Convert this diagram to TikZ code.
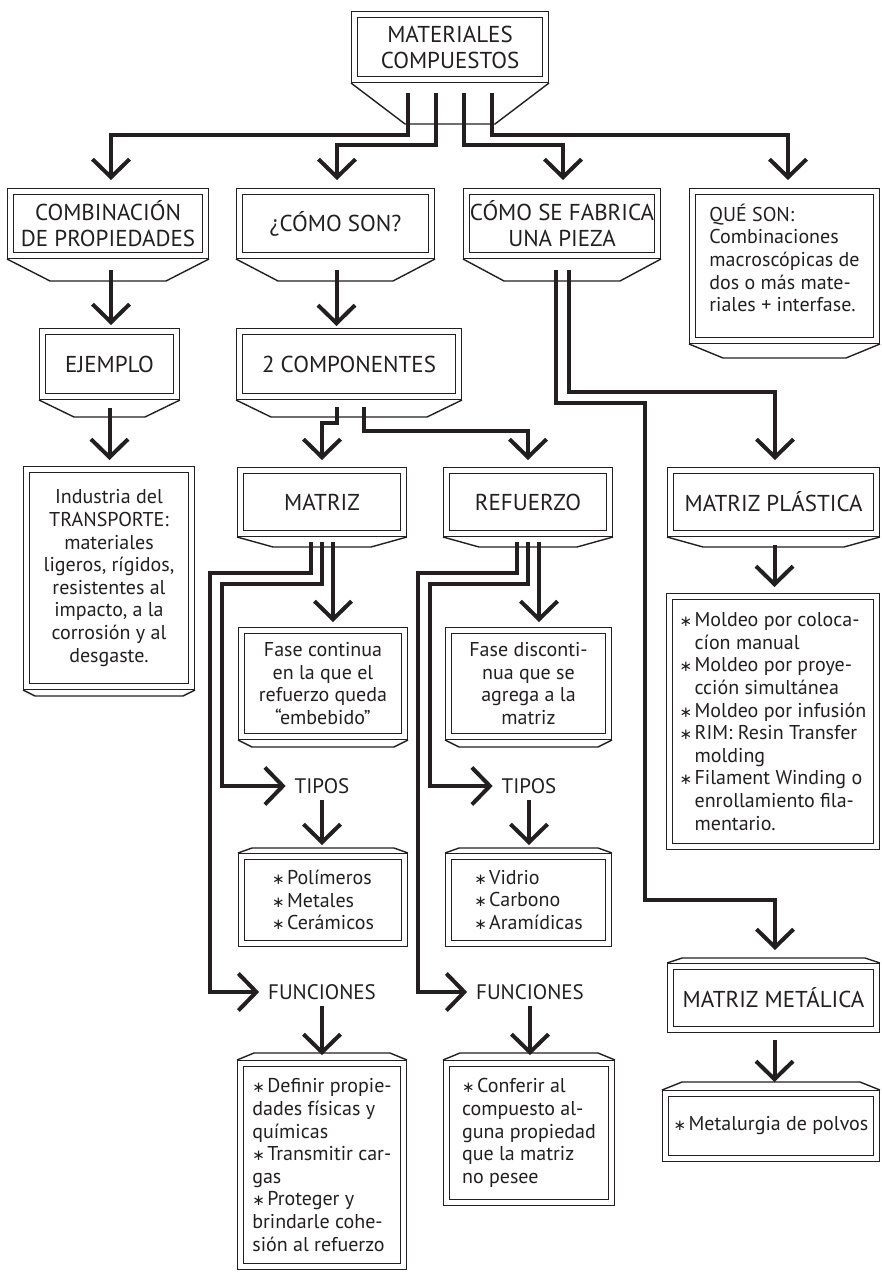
\documentclass[tikz,border=0pt]{standalone}
\usepackage{fontspec}
\usepackage{graphicx}
\setmainfont{PT Sans}
\newfontfamily\symfont{DejaVu Sans}
\usetikzlibrary{arrows.meta,calc}
\definecolor{ink}{HTML}{231F20}
\newcommand\hfont{\fontsize{23}{26}\selectfont}
\newcommand\lfont{\fontsize{21}{24}\selectfont}
\newcommand\bfont{\fontsize{20}{22.6}\selectfont}
\newcommand\bul{{\fontsize{15}{15}\symfont ∗}\hspace{0.12em}}
\newcommand\bulind{\hphantom{\bul}}
\tikzset{
  box/.style={draw=ink, line width=1.4pt, double=white, double distance=4.6pt,
    outer sep=3.7pt, inner sep=0pt, align=center, text=ink, font=\hfont},
  bodybox/.style={box, font=\bfont},
  lbl/.style={inner sep=0pt, outer sep=6pt, text=ink, font=\lfont},
  bev/.style={draw=ink, line width=1.4pt, line join=miter},
  conn/.style={draw=ink, line width=4pt, line join=miter,
    -{Straight Barb[length=18pt,width=37pt]}},
}
\newcommand\mybox[7][]{%
  \pgfmathsetmacro\mbcx{(#3+#5)/2}%
  \pgfmathsetmacro\mbcy{(#4+#6)/2}%
  \pgfmathsetmacro\mbw{#5-#3-7.4}%
  \pgfmathsetmacro\mbh{#6-#4-7.4}%
  \node[box,minimum width=\mbw pt,minimum height=\mbh pt,#1] (#2) at (\mbcx,\mbcy) {#7};}
\newcommand\bevb[3]{\draw[bev] (#1.south west) -- ++(#2,#3) -- ($(#1.south east)+(-#2,#3)$) -- (#1.south east);}
\newcommand\bevt[3]{\draw[bev] (#1.north west) -- ++(#2,-#3) -- ($(#1.north east)+(-#2,-#3)$) -- (#1.north east);}
\begin{document}
\begin{tikzpicture}[x=1pt,y=-1pt]
\useasboundingbox (0,0) rectangle (881,1273);
\fill[white] (0,0) rectangle (881,1273);

% boxes
\mybox{mat}{351}{11}{549}{83}{MATERIALES\\COMPUESTOS}
\mybox{A}{7}{188}{209}{259}{COMBINACIÓN\\DE PROPIEDADES}
\mybox{B}{236}{188}{435}{259}{¿CÓMO SON?}
\mybox{C}{463}{188}{661}{259}{CÓMO SE FABRICA\\UNA PIEZA}
\mybox[bodybox,align=left]{D}{689}{188}{880}{344}{QUÉ SON:\\Combinaciones\\macroscópicas de\\dos o más mate-\\riales + interfase.\\[-6pt]\mbox{}}
\mybox{E}{39}{328}{180}{400}{EJEMPLO}
\mybox{F}{236}{328}{462}{400}{2 COMPONENTES}
\mybox[bodybox]{G}{23}{466}{195}{690}{Industria del\\TRANSPORTE:\\materiales\\ligeros, rígidos,\\resistentes al\\impacto, a la\\corrosión y al\\desgaste.}
\mybox{H}{237}{467}{407}{537}{MATRIZ}
\mybox{I}{443}{467}{613}{537}{REFUERZO}
\mybox{J}{667}{467}{880}{537}{MATRIZ PLÁSTICA}
\mybox[bodybox]{K}{238}{627}{408}{740}{Fase continua\\en la que el\\refuerzo queda\\“embebido”}
\mybox[bodybox]{L}{445}{627}{612}{740}{Fase disconti-\\nua que se\\agrega a la\\matriz}
\mybox[bodybox,align=left]{M}{666}{593}{880}{850}{\bul Moldeo por coloca-\\\bulind cíon manual\\\bul Moldeo por proye-\\\bulind cción simultánea\\\bul Moldeo por infusión\\\bul RIM: Resin Transfer\\\bulind molding\\\bul Filament Winding o\\\bulind enrollamiento fila-\\\bulind mentario.}
\mybox[bodybox,align=left]{N}{238}{853}{408}{947}{\bul Polímeros\\\bul Metales\\\bul Cerámicos}
\mybox[bodybox,align=left]{O}{445}{853}{612}{947}{\bul Vidrio\\\bul Carbono\\\bul Aramídicas}
\mybox{P}{667}{963}{880}{1033}{MATRIZ METÁLICA}
\mybox[bodybox,align=left]{Q}{662}{1090}{880}{1162}{\bul Metalurgia de polvos}
\mybox[bodybox,align=left]{R}{237}{1060}{407}{1270}{\bul Definir propie-\\dades físicas y\\químicas\\\bul Transmitir car-\\gas\\\bul Proteger y\\brindarle cohe-\\sión al refuerzo}
\mybox[bodybox,align=left]{S}{443}{1060}{615}{1206}{\bul Conferir al\\compuesto al-\\guna propiedad\\que la matriz\\no pesee}

% bevels
\bevb{mat}{54}{41}
\bevb{A}{43}{22}
\bevb{B}{42}{22}
\bevb{C}{41}{22}
\bevb{D}{34}{14}
\bevb{E}{35}{17}
\bevb{F}{35}{17}
\bevb{G}{12}{6}
\bevb{H}{36}{10}
\bevb{I}{36}{10}
\bevb{J}{36}{10}
\bevb{K}{14}{7}
\bevb{L}{14}{7}
\bevt{N}{14}{5}
\bevt{O}{14}{5}
\bevt{P}{15}{5}
\bevt{Q}{20}{8}
\bevt{R}{17}{7}
\bevt{S}{17}{7}

% labels
\node[lbl] (T1) at (322,786) {TIPOS};
\node[lbl] (T2) at (529,786) {TIPOS};
\node[lbl] (U1) at (322,992) {FUNCIONES};
\node[lbl] (U2) at (530,992) {FUNCIONES};

% connectors
\coordinate (k1) at (111,135);
\coordinate (k2) at (337,145);
\coordinate (k3) at (563,145);
\coordinate (k4) at (788,135);
\draw[conn,shorten >=8pt] ($(mat.south)+(-42,10)$) |- (k1) -- (k1 |- A.north);
\draw[conn,shorten >=8pt] ($(mat.south)+(-14,10)$) |- (k2) -- (k2 |- B.north);
\draw[conn,shorten >=8pt] ($(mat.south)+(14,10)$) |- (k3) -- (k3 |- C.north);
\draw[conn,shorten >=8pt] ($(mat.south)+(42,10)$) |- (k4) -- (k4 |- D.north);

\coordinate (a1) at ($(A.south)+(3,11)$);
\draw[conn,shorten >=3pt] (a1) -- (a1 |- E.north);
\coordinate (b1) at ($(B.south)+(1,11)$);
\draw[conn,shorten >=2pt] (b1) -- (b1 |- F.north);
\coordinate (e1) at ($(E.south)+(0,8)$);
\draw[conn,shorten >=6pt] (e1) -- (e1 |- G.north);

\coordinate (k5) at (322,423);
\coordinate (k6) at (528,431);
\draw[conn,shorten >=7pt] ($(F.south)+(-12,7)$) |- (k5) -- (k5 |- H.north);
\draw[conn,shorten >=7pt] ($(F.south)+(15,7)$) |- (k6) -- (k6 |- I.north);

\coordinate (k7) at (775,392);
\coordinate (k8) at (645,403);
\coordinate (k9) at (775,900);
\draw[conn,shorten >=7pt] ($(C.south)+(7,11)$) |- (k7) -- (k7 |- J.north);
\draw[conn,shorten >=13pt] ($(C.south)+(-6,11)$) |- (k8) |- (k9) -- (k9 |- P.north);

\coordinate (j1) at ($(J.south)+(1,8)$);
\draw[conn,shorten >=6pt] (j1) -- (j1 |- M.north);
\coordinate (p1) at ($(P.south)+(1,7)$);
\draw[conn,shorten >=8pt] (p1) -- (p1 |- Q.north);

\coordinate (h1) at ($(H.south)+(11,5)$);
\draw[conn,shorten >=5pt] (h1) -- (h1 |- K.north);
\coordinate (k10) at (222,584);
\coordinate (k11) at (210,573);
\draw[conn,shorten >=3pt] ($(H.south)+(0,5)$) |- (k10) |- (T1.west);
\draw[conn,shorten >=3pt] ($(H.south)+(-11,5)$) |- (k11) |- (U1.west);

\coordinate (i1) at ($(I.south)+(11,5)$);
\draw[conn,shorten >=5pt] (i1) -- (i1 |- L.north);
\coordinate (k12) at (430,584);
\coordinate (k13) at (418,573);
\draw[conn,shorten >=3pt] ($(I.south)+(0,5)$) |- (k12) |- (T2.west);
\draw[conn,shorten >=3pt] ($(I.south)+(-11,5)$) |- (k13) |- (U2.west);

\draw[conn,shorten >=8pt] (T1.south) -- (T1.south |- N.north);
\draw[conn,shorten >=8pt] (T2.south) -- (T2.south |- O.north);
\draw[conn,shorten >=5pt] (U1.south) -- (U1.south |- R.north);
\draw[conn,shorten >=5pt] (U2.south) -- (U2.south |- S.north);
\end{tikzpicture}
\end{document}
